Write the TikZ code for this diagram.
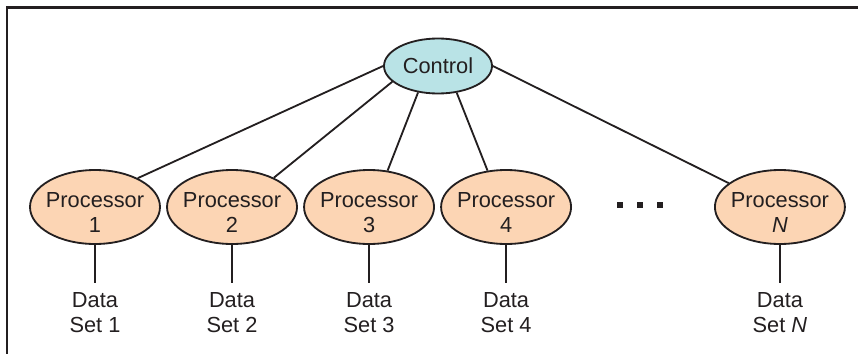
\documentclass[tikz,border=0pt]{standalone}
\usepackage{fontspec}
\setmainfont{Liberation Sans}
\usetikzlibrary{positioning,shapes.geometric}
\definecolor{SimdInk}{RGB}{35,31,32}
\definecolor{SimdCyan}{RGB}{185,227,230}
\definecolor{SimdPeach}{RGB}{252,213,180}
\tikzset{
  simd node/.style={
    draw=SimdInk,
    line width=1.3pt,
    ellipse,
    align=center,
    text=SimdInk,
    font=\fontsize{15.5pt}{18pt}\selectfont,
    inner xsep=-3pt,
    inner ysep=0pt
  },
  simd ctrl/.style={simd node, fill=SimdCyan, minimum width=2.7cm, minimum height=1.375cm},
  simd proc/.style={simd node, fill=SimdPeach, minimum width=3.25cm, minimum height=1.85cm, text height=1.27cm, text depth=0pt},
  simd data/.style={align=center, text=SimdInk, font=\fontsize{15.5pt}{18pt}\selectfont, inner xsep=0pt, inner ysep=6.4pt},
  simd link/.style={line width=1.3pt, SimdInk},
  simd frame/.style={line width=1.6pt, SimdInk}
}
\begin{document}
\begin{tikzpicture}[node distance=0.95cm and 0.13cm]
\useasboundingbox (0,0) rectangle (21.45,8.85);
\draw[simd frame] (21.45,8.66)--(0.175,8.66)--(0.175,0);
\node[simd ctrl] (ctrl) at (10.95,7.2) {Control};
\node[simd proc] (p1) at (2.375,3.675) {Processor\\1};
\node[simd proc, right=of p1] (p2) {Processor\\2};
\node[simd proc, right=of p2] (p3) {Processor\\3};
\node[simd proc, right=of p3] (p4) {Processor\\4};
\node[simd proc, right=3.55cm of p4] (pN) {Processor\\\textit{N}};
\node[simd data, below=of p1] (d1) {Data\\Set 1};
\node[simd data, below=of p2] (d2) {Data\\Set 2};
\node[simd data, below=of p3] (d3) {Data\\Set 3};
\node[simd data, below=of p4] (d4) {Data\\Set 4};
\node[simd data, below=of pN] (dN) {Data\\Set \textit{N}};
% dots between processor 4 and N
\foreach \x in {15.5,16,16.5}
  \fill[SimdInk] (\x-0.07,3.66) rectangle ++(0.14,0.13);
\draw[simd link] (ctrl.west)--(p1.34);
\draw[simd link] (ctrl.199)--(p2.35);
\draw[simd link] (ctrl.233)--(p3.63);
\draw[simd link] (ctrl.305)--(p4.117);
\draw[simd link] (ctrl.east)--(pN.155);
\draw[simd link] (p1)--(d1);
\draw[simd link] (p2)--(d2);
\draw[simd link] (p3)--(d3);
\draw[simd link] (p4)--(d4);
\draw[simd link] (pN)--(dN);
\end{tikzpicture}
\end{document}
